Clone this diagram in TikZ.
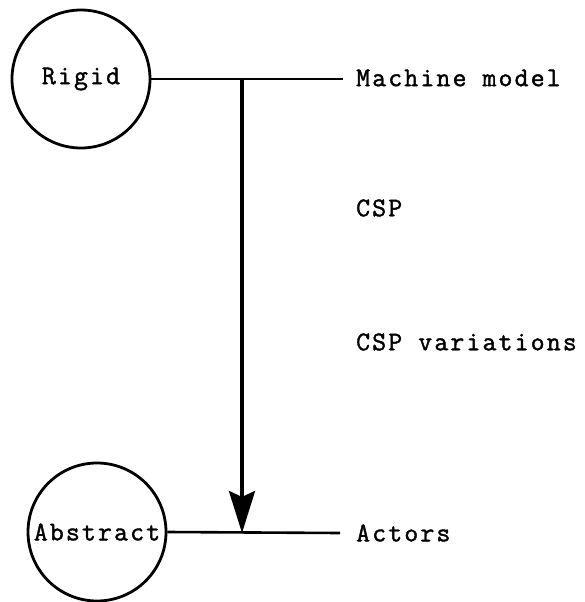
\documentclass[tikz,border=0pt]{standalone}
\usepackage{fontspec}
\setmonofont[LetterSpace=8,FakeBold=1.5]{Latin Modern Mono}
\usetikzlibrary{arrows.meta}
\begin{document}
\begin{tikzpicture}[x=1pt,y=-1pt,
  state/.style={circle,draw,line width=2.8pt,minimum size=138pt,inner sep=0pt,
    font=\ttfamily\fontsize{27}{30}\selectfont},
  label/.style={anchor=west,inner sep=0pt,font=\ttfamily\fontsize{27}{30}\selectfont},
  wire/.style={line width=2.6pt},
  flow/.style={line width=3.6pt,-{Stealth[length=42pt,width=26pt,inset=6pt]}}]
  \useasboundingbox (0,0) rectangle (585,602);
  % the two ends of the scale
  \node[state] (rigid) at (81,79) {Rigid};
  \node[state] (abstract) at (97,532) {Abstract};
  % labels along the scale
  \node[label] (machine) at (356,78) {Machine model};
  \node[label] (csp) at (356,208) {CSP};
  \node[label] (cspvar) at (356,342) {CSP variations};
  \node[label] (actors) at (356,533) {Actors};
  % rails joining circles to their labels
  \draw[wire] (rigid.east) -- (343,79) coordinate (topend);
  \draw[wire] (abstract.east) -- (340,533) coordinate (botend);
  \coordinate (start) at (242,79);
  \coordinate (stop) at (242,533);
  \draw[flow] (start) -- (stop);
\end{tikzpicture}
\end{document}
